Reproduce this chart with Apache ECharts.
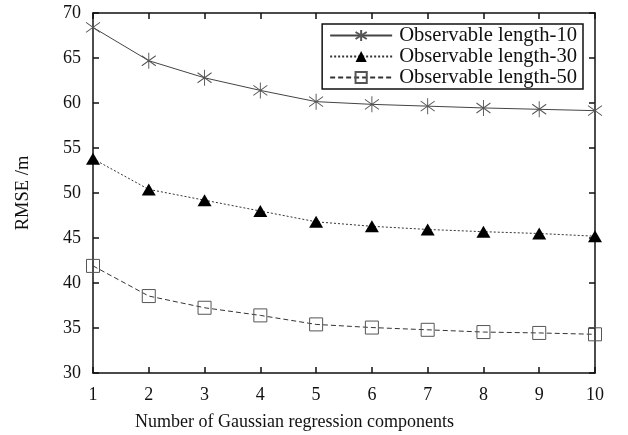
<!DOCTYPE html>
<html>
<head>
<meta charset="utf-8">
<script src="https://cdn.jsdelivr.net/npm/echarts@6/dist/echarts.min.js"></script>
<style>html,body{margin:0;padding:0;background:#fff}#c{width:628px;height:435px}</style>
</head>
<body>
<div id="c"></div>
<script>
const components = [1, 2, 3, 4, 5, 6, 7, 8, 9, 10];
const len10 = [68.4, 64.7, 62.8, 61.4, 60.15, 59.85, 59.65, 59.45, 59.3, 59.15];
const len30 = [53.8, 50.4, 49.2, 48.0, 46.8, 46.3, 45.95, 45.7, 45.5, 45.2];
const len50 = [41.9, 38.55, 37.25, 36.4, 35.4, 35.05, 34.8, 34.55, 34.45, 34.3];
const seriesNames = ['Observable length-10', 'Observable length-30', 'Observable length-50'];
const xTitle = 'Number of Gaussian regression components';
const yTitle = 'RMSE /m';

const FONT = '"Liberation Serif", "Times New Roman", serif';
const pairs = arr => components.map((c, i) => [c, arr[i]]);
const asterisk = 'path://M7,0 L7,16 M0,3 L14,13 M0,13 L14,3';

const chart = echarts.init(document.getElementById('c'), null, {renderer: 'canvas'});
const axisCommon = {
  axisLine: {show: true, lineStyle: {color: '#111', width: 1.5}},
  axisTick: {show: true, inside: true, length: 6, lineStyle: {color: '#111', width: 1.5}},
  splitLine: {show: false}
};
chart.setOption({
  animation: false,
  grid: {left: 93, right: 33, top: 13, bottom: 62, show: false},
  legend: {
    orient: 'vertical', right: 45, top: 24,
    data: seriesNames,
    itemWidth: 62, itemHeight: 14, itemGap: 0,
    padding: [1, 6, 1, 7],
    borderColor: '#111', borderWidth: 1.5,
    backgroundColor: '#fff',
    textStyle: {fontFamily: FONT, fontSize: 20.6, lineHeight: 21, color: '#111', padding: [0, 0, 0, 2]}
  },
  graphic: [{
    type: 'text', left: 135, top: 413,
    style: {text: xTitle, font: '18px ' + FONT, fill: '#111'}
  }],
  xAxis: [
    Object.assign({}, axisCommon, {
      type: 'value', min: 1, max: 10, interval: 1, position: 'bottom',
      axisLabel: {fontFamily: FONT, fontSize: 18, color: '#111', margin: 13}
    }),
    Object.assign({}, axisCommon, {
      type: 'value', min: 1, max: 10, interval: 1, position: 'top',
      axisLabel: {show: false}
    })
  ],
  yAxis: [
    Object.assign({}, axisCommon, {
      type: 'value', min: 30, max: 70, interval: 5, position: 'left',
      name: yTitle, nameLocation: 'middle', nameGap: 60,
      nameTextStyle: {fontFamily: FONT, fontSize: 18.5, color: '#111'},
      axisLabel: {fontFamily: FONT, fontSize: 18, color: '#111', margin: 12}
    }),
    Object.assign({}, axisCommon, {
      type: 'value', min: 30, max: 70, interval: 5, position: 'right',
      axisLabel: {show: false}
    })
  ],
  series: [
    {
      name: seriesNames[0], type: 'line', data: pairs(len10),
      symbol: asterisk, symbolSize: [14, 16],
      lineStyle: {color: '#444', width: 1, type: 'solid'},
      itemStyle: {color: 'rgba(0,0,0,0)', borderColor: '#555', borderWidth: 1}
    },
    {
      name: seriesNames[1], type: 'line', data: pairs(len30),
      symbol: 'triangle', symbolSize: [14, 12],
      lineStyle: {color: '#333', width: 1, type: [2, 2]},
      itemStyle: {color: '#000', borderColor: '#000', borderWidth: 0}
    },
    {
      name: seriesNames[2], type: 'line', data: pairs(len50),
      symbol: 'rect', symbolSize: 13,
      lineStyle: {color: '#333', width: 1, type: [5, 3]},
      itemStyle: {color: 'rgba(0,0,0,0)', borderColor: '#555', borderWidth: 1}
    }
  ]
});
</script>
</body>
</html>
